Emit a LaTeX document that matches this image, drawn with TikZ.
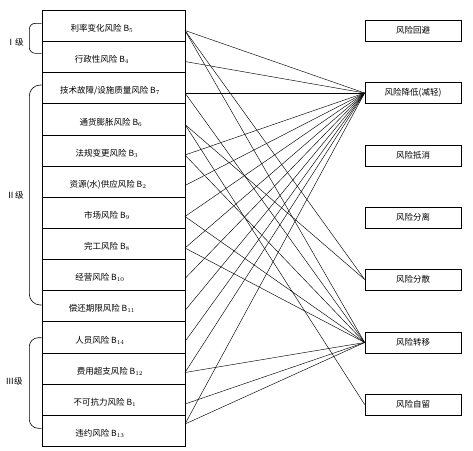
\documentclass[tikz,border=0pt]{standalone}
\usepackage{fontspec}
\newfontfamily\cjk{Noto Sans CJK SC}
\begin{document}
\begin{tikzpicture}[x=1pt,y=-1pt,
  txt/.style={font=\cjk\fontsize{8.5}{9}\selectfont, inner sep=0pt},
  rowbox/.style={draw, line width=0.7pt, minimum width=143.3pt, minimum height=31.14pt, inner sep=0pt, anchor=north west},
  rbox/.style={draw, line width=0.7pt, minimum width=96pt, minimum height=21pt, inner sep=0pt, font=\cjk\fontsize{8.5}{9}\selectfont},
  link/.style={line width=0.45pt},
  brack/.style={line width=0.6pt}]
\useasboundingbox (0,0) rectangle (473,450);
% left rows
\foreach \i in {1,...,14}{
  \node[rowbox] (r\i) at (41.7,{10+31.14*(\i-1)}) {};
}
\node[txt] (l1)  at (102,28.6)  {利率变化风险 B$_5$};
\node[txt] (l2)  at (102,59.7)  {行政性风险 B$_4$};
\node[txt] (l3)  at (110,90.9)  {技术故障/设施质量风险 B$_7$};
\node[txt] (l4)  at (111,122)   {通货膨胀风险 B$_6$};
\node[txt] (l5)  at (107,153.1) {法规变更风险 B$_3$};
\node[txt] (l6)  at (108,184.3) {资源(水)供应风险 B$_2$};
\node[txt] (l7)  at (107,215.4) {市场风险 B$_9$};
\node[txt] (l8)  at (107,246.6) {完工风险 B$_8$};
\node[txt] (l9)  at (100,277.7) {经营风险 B$_{10}$};
\node[txt] (l10) at (102,308.8) {偿还期限风险 B$_{11}$};
\node[txt] (l11) at (100,340)   {人员风险 B$_{14}$};
\node[txt] (l12) at (110,371.1) {费用超支风险 B$_{12}$};
\node[txt] (l13) at (105,402.3) {不可抗力风险 B$_1$};
\node[txt] (l14) at (100,433.4) {违约风险 B$_{13}$};
% start points
\coordinate (s1) at (185,30.5);
\coordinate (s2) at (185,61.5);
\coordinate (s3) at (185,93);
\coordinate (s4) at (185,124.5);
\coordinate (s5) at (185,155);
\coordinate (s6) at (185,185.5);
\coordinate (s7) at (185,216.5);
\coordinate (s8) at (185,248);
\coordinate (s9) at (185,278.5);
\coordinate (s10) at (185,310.5);
\coordinate (s11) at (185,341.5);
\coordinate (s12) at (185,372.5);
\coordinate (s13) at (185,404);
\coordinate (s14) at (185,424);
% right boxes
\node[rbox] (t1) at (413,30.5)  {风险回避};
\node[rbox] (t2) at (413,93)    {风险降低(减轻)};
\node[rbox] (t3) at (413,155.5) {风险抵消};
\node[rbox] (t4) at (413,217.5) {风险分离};
\node[rbox] (t5) at (413,279.5) {风险分散};
\node[rbox] (t6) at (413,342.5) {风险转移};
\node[rbox] (t7) at (413,404.5) {风险自留};
% links
\foreach \s in {1,2,3,5,6,7,8,9,10,11,12,14}{ \draw[link] (s\s) -- (t2.west); }
\foreach \s in {1,3,5,7,8,12,13,14}{ \draw[link] (s\s) -- (t6.west); }
\draw[link] (s1) -- (t5.west);
\draw[link] (s4) -- (t5.west);
\draw[link] (s4) -- (t7.west);
% brackets
\coordinate (b1a) at (41.7,23.3);
\coordinate (b1b) at (41.7,53.3);
\draw[brack, rounded corners=6pt] (b1a) -- (29.3,23.3) -- (29.3,53.3) -- (b1b);
\coordinate (b2a) at (41.7,85);
\coordinate (b2b) at (41.7,305);
\draw[brack, rounded corners=11pt] (b2a) -- (29.3,85) -- (29.3,305) -- (b2b);
\coordinate (b3a) at (41.7,337.7);
\coordinate (b3b) at (41.7,428.3);
\draw[brack, rounded corners=9pt] (b3a) -- (29.3,337.7) -- (29.3,428.3) -- (b3b);
\node[txt] (g1) at (15,42)    {Ⅰ级};
\node[txt] (g2) at (15,195.7) {Ⅱ级};
\node[txt] (g3) at (14,381.7) {Ⅲ级};
\end{tikzpicture}
\end{document}
